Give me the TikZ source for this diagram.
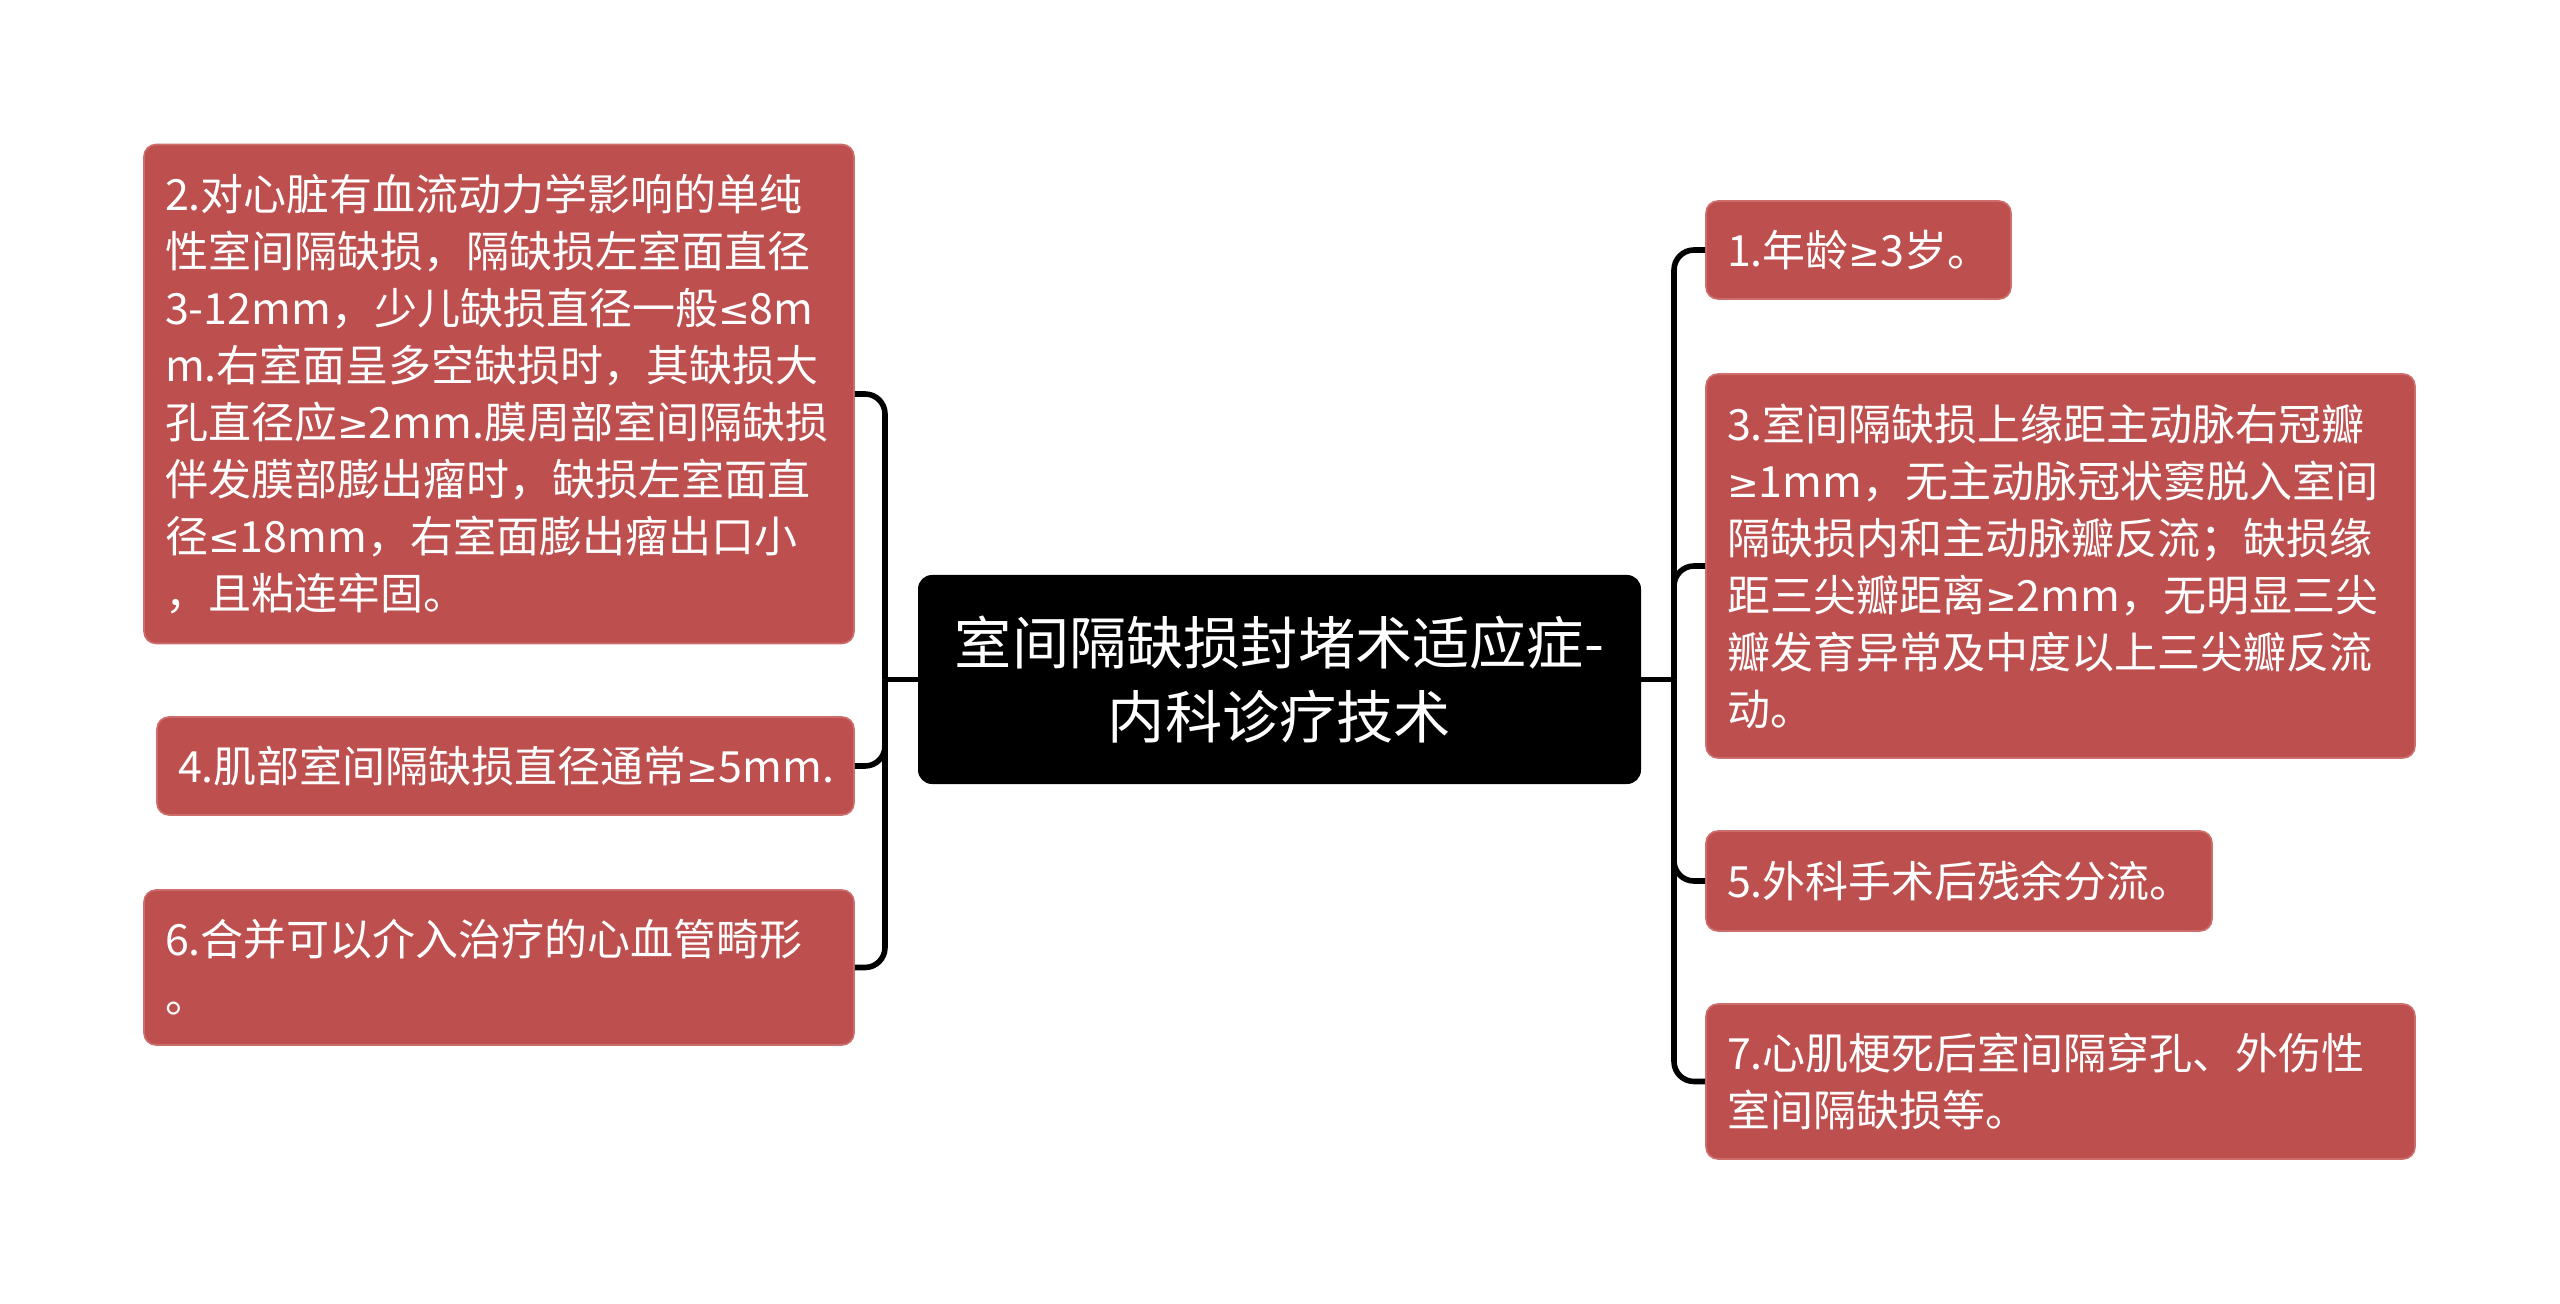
\documentclass[tikz,border=0pt]{standalone}
\usepackage{fontspec}
\setmainfont{Noto Sans CJK SC}
\newfontfamily\symfont{DejaVu Sans}
\newcommand\gsym{{\symfont\fontsize{19}{28.5}\selectfont ≥}}
\newcommand\lsym{{\symfont\fontsize{19}{28.5}\selectfont ≤}}
\definecolor{boxred}{RGB}{189,80,79}
\definecolor{boxedge}{RGB}{204,110,108}
\begin{document}
\begin{tikzpicture}[x=0.5pt,y=-0.5pt,
  leaf/.style={rectangle, rounded corners=6pt, fill=boxred, draw=boxedge, line width=0.8pt,
    text=white, font=\fontsize{21.5}{28.5}\selectfont, align=left,
    inner xsep=10.5pt, inner ysep=0pt, anchor=center},
  root/.style={rectangle, rounded corners=7pt, fill=black, text=white,
    font=\fontsize{28.6}{36.7}\selectfont, align=center, inner sep=0pt,
    minimum width=361.5pt, minimum height=104.5pt, anchor=center},
  conn/.style={line width=2.8pt, draw=black, rounded corners=10pt}]
\useasboundingbox[fill=white] (0,0) rectangle (2560,1304);

% root
\node[root] (c) at (1279.5,679.5) {室间隔缺损封堵术适应症-\\内科诊疗技术};

% left leaves
\node[leaf, minimum width=355pt, minimum height=249.5pt, text width=334pt] (b2) at (499,394)
 {2.对心脏有血流动力学影响的单纯\\性室间隔缺损，隔缺损左室面直径\\3-12mm，少儿缺损直径一般\lsym 8m\\m.右室面呈多空缺损时，其缺损大\\孔直径应\gsym 2mm.膜周部室间隔缺损\\伴发膜部膨出瘤时，缺损左室面直\\径\lsym 18mm，右室面膨出瘤出口小\\，且粘连牢固。};
\node[leaf, minimum width=348.5pt, minimum height=49pt, text width=327.5pt] (b4) at (505.5,766)
 {4.肌部室间隔缺损直径通常\gsym 5mm.};
\node[leaf, minimum width=355pt, minimum height=77.5pt, text width=334pt] (b6) at (499,967.5)
 {6.合并可以介入治疗的心血管畸形\\。};

% right leaves
\node[leaf, minimum width=152.5pt, minimum height=49pt, text width=131.5pt] (b1) at (1858.5,250)
 {1.年龄\gsym 3岁。};
\node[leaf, minimum width=354.5pt, minimum height=192pt, text width=333.5pt] (b3) at (2060.5,566)
 {3.室间隔缺损上缘距主动脉右冠瓣\\\gsym 1mm，无主动脉冠状窦脱入室间\\隔缺损内和主动脉瓣反流；缺损缘\\距三尖瓣距离\gsym 2mm，无明显三尖\\瓣发育异常及中度以上三尖瓣反流\\动。};
\node[leaf, minimum width=253pt, minimum height=50pt, text width=232pt] (b5) at (1959,881)
 {5.外科手术后残余分流。};
\node[leaf, minimum width=354.5pt, minimum height=77.5pt, text width=333.5pt] (b7) at (2060.5,1081.5)
 {7.心肌梗死后室间隔穿孔、外伤性\\室间隔缺损等。};

% junctions
\coordinate (jl) at (885,679.5);
\coordinate (jr) at (1674,679.5);

% connectors
\draw[conn] (c.west) -- (jl);
\draw[conn] (jl) |- (b2.east);
\draw[conn] (jl) |- (b4.east);
\draw[conn] (jl) |- (b6.east);
\draw[conn] (c.east) -- (jr);
\draw[conn] (jr) |- (b1.west);
\draw[conn] (jr) |- (b3.west);
\draw[conn] (jr) |- (b5.west);
\draw[conn] (jr) |- (b7.west);
\end{tikzpicture}
\end{document}
